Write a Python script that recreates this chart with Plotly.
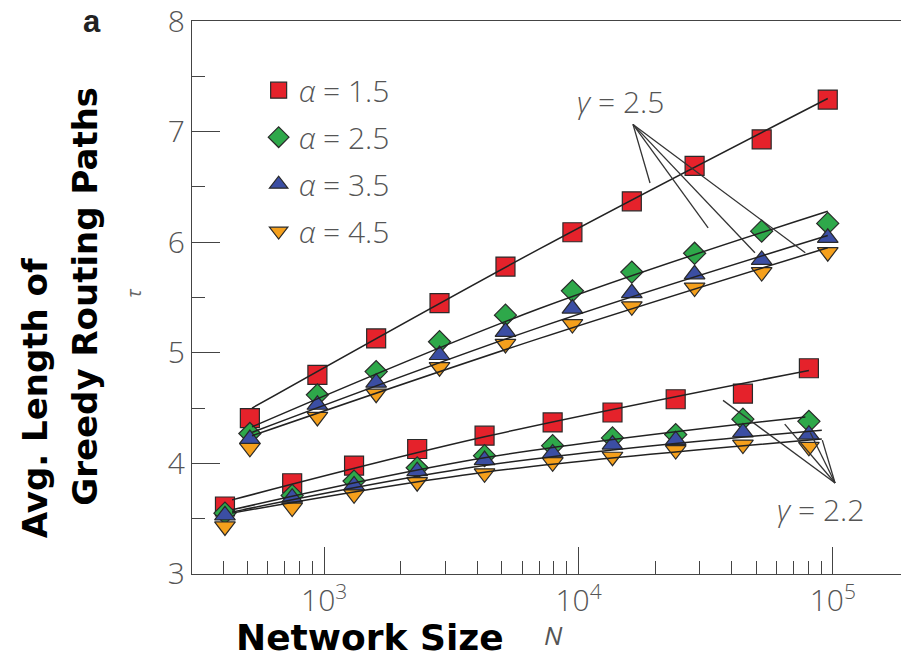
import plotly.graph_objects as go

# ---------------- data ----------------
alphas = ["1.5", "2.5", "3.5", "4.5"]
colors = ["#e5222b", "#2ea84a", "#3b4ea3", "#f5a01c"]
symbols = ["square", "diamond", "triangle-up", "triangle-down"]
sizes = [19, 17, 18, 18]

# gamma = 2.5 (upper group)
N_up = [510, 940, 1600, 2840, 5160, 9460, 16200, 28600, 52500, 95500]
tau_up_a15 = [4.41, 4.80, 5.13, 5.45, 5.78, 6.09, 6.37, 6.69, 6.93, 7.29]
tau_up_a25 = [4.27, 4.62, 4.83, 5.10, 5.34, 5.56, 5.73, 5.90, 6.10, 6.17]
tau_up_a35 = [4.22, 4.53, 4.73, 4.98, 5.19, 5.40, 5.54, 5.71, 5.84, 6.04]
tau_up_a45 = [4.14, 4.42, 4.63, 4.87, 5.08, 5.26, 5.42, 5.59, 5.73, 5.91]

# gamma = 2.2 (lower group)
N_lo = [407, 748, 1310, 2320, 4270, 7910, 13600, 24100, 44300, 80500]
tau_lo_a15 = [3.61, 3.82, 3.98, 4.13, 4.25, 4.37, 4.46, 4.58, 4.63, 4.86]
tau_lo_a25 = [3.55, 3.71, 3.84, 3.96, 4.07, 4.16, 4.23, 4.26, 4.40, 4.38]
tau_lo_a35 = [3.53, 3.69, 3.80, 3.93, 4.03, 4.09, 4.17, 4.21, 4.28, 4.26]
tau_lo_a45 = [3.43, 3.60, 3.72, 3.83, 3.91, 4.01, 4.06, 4.12, 4.17, 4.15]

# fit curves
fitN_up = [[520, 7020, 95500], [520, 7020, 95500], [520, 7020, 95500], [520, 7020, 95500]]
fit_up = [[4.50, 5.94, 7.30], [4.33, 5.40, 6.28], [4.28, 5.23, 6.06], [4.25, 5.13, 5.95]]
fitN_lo = [[434, 4270, 80500], [434, 4270, 78000], [434, 4270, 90500], [434, 4270, 90500]]
fit_lo = [[3.67, 4.24, 4.84], [3.58, 4.05, 4.42], [3.56, 3.98, 4.30], [3.55, 3.92, 4.22]]

x_major = [1000, 10000, 100000]
x_major_text = ["10<sup>3</sup>", "10<sup>4</sup>", "10<sup>5</sup>"]
x_minor = [400, 500, 600, 700, 800, 900,
           2000, 3000, 4000, 5000, 6000, 7000, 8000, 9000,
           20000, 30000, 40000, 50000, 60000, 70000, 80000, 90000]
y_major = [3, 4, 5, 6, 7, 8]
y_minor = [3.5, 4.5, 5.5, 6.5, 7.5]

up = [tau_up_a15, tau_up_a25, tau_up_a35, tau_up_a45]
lo = [tau_lo_a15, tau_lo_a25, tau_lo_a35, tau_lo_a45]

fig = go.Figure()
edge = dict(color="#2a2a2a", width=1.2)

for i in range(4):
    fig.add_trace(go.Scatter(
        x=N_up, y=up[i], mode="markers",
        marker=dict(symbol=symbols[i], size=sizes[i], color=colors[i], line=edge),
        name="<i>α</i> = " + alphas[i], legendgroup="g%d" % i, showlegend=True))
    fig.add_trace(go.Scatter(
        x=N_lo, y=lo[i], mode="markers",
        marker=dict(symbol=symbols[i], size=sizes[i], color=colors[i], line=edge),
        legendgroup="g%d" % i, showlegend=False))

for i in range(4):
    fig.add_trace(go.Scatter(x=fitN_up[i], y=fit_up[i], mode="lines",
                             line=dict(color="#222", width=1.5, shape="spline"),
                             showlegend=False, hoverinfo="skip"))
    fig.add_trace(go.Scatter(x=fitN_lo[i], y=fit_lo[i], mode="lines",
                             line=dict(color="#222", width=1.5, shape="spline"),
                             showlegend=False, hoverinfo="skip"))

tickfont = dict(family="Open Sans", size=30, color="#555", weight=300)

fig.update_layout(
    width=901, height=663,
    margin=dict(l=192, r=0, t=19, b=89),
    plot_bgcolor="white", paper_bgcolor="white",
    xaxis=dict(type="log", range=[2.48, 5.268],
               tickmode="array", tickvals=x_major, ticktext=x_major_text,
               ticks="inside", ticklen=27, tickwidth=1.3, tickcolor="#444",
               minor=dict(tickmode="array", tickvals=x_minor, ticks="inside",
                          ticklen=13, tickwidth=1.3, tickcolor="#444", showgrid=False),
               showline=True, linecolor="#444", linewidth=1.3, mirror=True,
               showgrid=False, zeroline=False, tickfont=tickfont),
    yaxis=dict(range=[2.9995, 8.0005], tickmode="array", tickvals=y_major,
               ticks="inside", ticklen=28, tickwidth=1.3, tickcolor="#444",
               minor=dict(tickmode="array", tickvals=y_minor, ticks="inside", ticklen=13,
                          tickwidth=1.3, tickcolor="#444", showgrid=False),
               showline=True, linecolor="#444", linewidth=1.3,
               ticklabeloverflow="allow",
               showgrid=False, zeroline=False, tickfont=tickfont),
    legend=dict(x=0.094, y=0.922, xanchor="left", yanchor="top",
                font=dict(family="Open Sans", size=30, color="#555", weight=300),
                tracegroupgap=5, bgcolor="rgba(0,0,0,0)", itemsizing="trace"),
    showlegend=True,
)

# leader lines
apex25 = (0.622, 0.813)
ends25 = [(0.646, 0.707), (0.728, 0.626), (0.794, 0.581), (0.865, 0.581)]
apex22 = (0.907, 0.1645)
ends22 = [(0.749, 0.314), (0.836, 0.271), (0.872, 0.256), (0.889, 0.242)]
for (ax, ay), lst in [(apex25, ends25), (apex22, ends22)]:
    for ex, ey in lst:
        fig.add_shape(type="line", xref="paper", yref="paper",
                      x0=ax, y0=ay, x1=ex, y1=ey,
                      line=dict(color="#333", width=1.3))

anno_font = dict(family="Open Sans", size=30, color="#555", weight=300)
fig.add_annotation(x=0.604, y=0.855, xref="paper", yref="paper", showarrow=False,
                   text="<i>γ</i> = 2.5", font=anno_font, xanchor="center", yanchor="middle")
fig.add_annotation(x=0.886, y=0.116, xref="paper", yref="paper", showarrow=False,
                   text="<i>γ</i> = 2.2", font=anno_font, xanchor="center", yanchor="middle")

# panel letter
fig.add_annotation(x=-0.141, y=574.3 / 555, xref="paper", yref="paper", showarrow=False,
                   text="<b>a</b>", font=dict(family="Liberation Sans", size=31, color="#222"),
                   xanchor="center", yanchor="top")
# small tau
fig.add_annotation(x=-0.083, y=0.509, xref="paper", yref="paper", showarrow=False,
                   text="<i>τ</i>", textangle=-90,
                   font=dict(family="Open Sans", size=20, color="#666"),
                   xanchor="center", yanchor="middle")
# y title
title_font = dict(family="DejaVu Sans", size=34, color="black")
fig.add_annotation(x=(35 - 192) / 709, y=(574.3 - 398) / 555, xref="paper", yref="paper",
                   showarrow=False, text="<b>Avg. Length of</b>", textangle=-90,
                   font=title_font, xanchor="center", yanchor="middle")
fig.add_annotation(x=(85 - 192) / 709, y=(574.3 - 296) / 555, xref="paper", yref="paper",
                   showarrow=False, text="<b>Greedy Routing Paths</b>", textangle=-90,
                   font=title_font, xanchor="center", yanchor="middle")
# x title
fig.add_annotation(x=(370 - 192) / 709, y=(574.3 - 638) / 555, xref="paper", yref="paper",
                   showarrow=False, text="<b>Network Size</b>",
                   font=dict(family="DejaVu Sans", size=36, color="black"),
                   xanchor="center", yanchor="middle")
fig.add_annotation(x=(553 - 192) / 709, y=(574.3 - 636) / 555, xref="paper", yref="paper",
                   showarrow=False, text="<i>N</i>",
                   font=dict(family="Open Sans", size=26, color="#555"),
                   xanchor="center", yanchor="middle")

fig.write_html("out.html")
